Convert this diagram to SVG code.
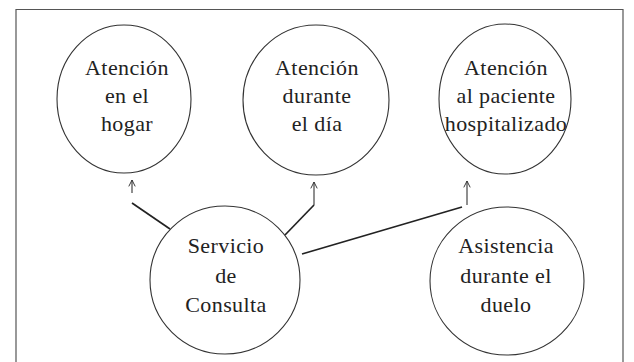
<svg xmlns="http://www.w3.org/2000/svg" width="634" height="362" viewBox="0 0 634 362">
<defs>
<marker id="ah" viewBox="0 0 10 10" refX="9" refY="5" markerWidth="8" markerHeight="8" markerUnits="userSpaceOnUse" orient="auto">
<path d="M1,1 L9,5 L1,9" fill="none" stroke="#333" stroke-width="1.2"/>
</marker>
</defs>
<style>
ellipse.c{fill:#fff;stroke:#333;stroke-width:1.1}
text.t{font-family:'Liberation Serif','DejaVu Serif','Times New Roman',serif;font-size:22px;fill:#222;text-anchor:middle;letter-spacing:0.4px}
.frame{fill:none;stroke:#555;stroke-width:1.2}
.conn{fill:none;stroke:#222;stroke-width:1.7}
.stem{fill:none;stroke:#333;stroke-width:1.1}
</style>
<rect width="634" height="362" fill="#fff"/>
<path class="frame" d="M16,362 L16,9.5 L623,9.5 L623,362"/>
<g id="connectors">
<line class="conn" x1="170" y1="229" x2="132" y2="203"/>
<line class="stem" x1="132" y1="193" x2="132" y2="180" marker-end="url(#ah)"/>
<polyline class="conn" points="285,235 314,205"/>
<line class="stem" x1="314" y1="205" x2="314" y2="182" marker-end="url(#ah)"/>
<line class="conn" x1="302" y1="254" x2="462" y2="207"/>
<line class="stem" x1="467" y1="205" x2="467" y2="181" marker-end="url(#ah)"/>
</g>
<g id="n1">
<ellipse class="c" cx="124" cy="99" rx="67" ry="74"/>
<text class="t" x="127" y="75" font-family="Liberation Serif, serif">Atención</text>
<text class="t" x="127" y="103" font-family="Liberation Serif, serif">en el</text>
<text class="t" x="127" y="131" font-family="Liberation Serif, serif">hogar</text>
</g>
<g id="n2">
<ellipse class="c" cx="316" cy="100" rx="73" ry="75"/>
<text class="t" x="317" y="75" font-family="Liberation Serif, serif">Atención</text>
<text class="t" x="317" y="103" font-family="Liberation Serif, serif">durante</text>
<text class="t" x="317" y="131" font-family="Liberation Serif, serif">el día</text>
</g>
<g id="n3">
<ellipse class="c" cx="505" cy="99" rx="66" ry="75"/>
<text class="t" x="506" y="75" font-family="Liberation Serif, serif">Atención</text>
<text class="t" x="506" y="103" font-family="Liberation Serif, serif">al paciente</text>
<text class="t" x="506" y="131" font-family="Liberation Serif, serif">hospitalizado</text>
</g>
<g id="n4">
<ellipse class="c" cx="225" cy="280" rx="75" ry="74"/>
<text class="t" x="226" y="253" font-family="Liberation Serif, serif">Servicio</text>
<text class="t" x="226" y="283" font-family="Liberation Serif, serif">de</text>
<text class="t" x="226" y="312" font-family="Liberation Serif, serif">Consulta</text>
</g>
<g id="n5">
<ellipse class="c" cx="507" cy="281" rx="77" ry="74"/>
<text class="t" x="506" y="253" font-family="Liberation Serif, serif">Asistencia</text>
<text class="t" x="506" y="283" font-family="Liberation Serif, serif">durante el</text>
<text class="t" x="506" y="312" font-family="Liberation Serif, serif">duelo</text>
</g>
</svg>
